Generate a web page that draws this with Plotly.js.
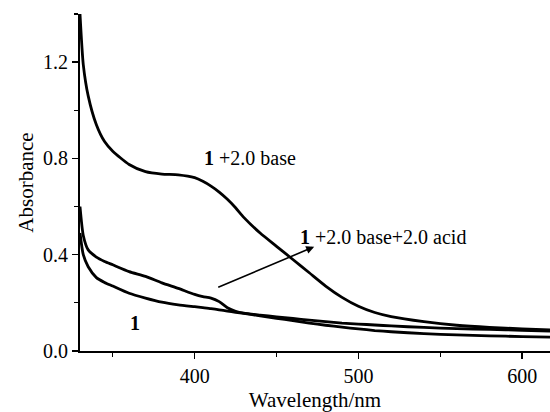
<!DOCTYPE html>
<html>
<head>
<meta charset="utf-8">
<script src="https://cdn.plot.ly/plotly-3.0.1.min.js"></script>
<style>html,body{margin:0;padding:0;background:#fff;}#chart{width:550px;height:412px;}</style>
</head>
<body>
<div id="chart"></div>
<script>
// Wavelength (nm)
const wavelength = [330,332,335,340,345,350,360,370,380,390,400,405,410,415,420,425,430,440,450,460,470,480,490,500,510,520,540,560,580,600,617];
// 1 + 2.0 base
const absBase = [1.40,1.19,1.06,0.94,0.87,0.83,0.775,0.745,0.735,0.732,0.72,0.705,0.685,0.66,0.63,0.595,0.555,0.49,0.435,0.38,0.325,0.27,0.223,0.186,0.16,0.143,0.122,0.107,0.098,0.092,0.088];
// 1 + 2.0 base + 2.0 acid
const absAcid = [0.60,0.48,0.42,0.39,0.372,0.358,0.33,0.31,0.283,0.26,0.235,0.226,0.22,0.205,0.18,0.165,0.157,0.149,0.142,0.135,0.128,0.122,0.116,0.112,0.108,0.104,0.098,0.093,0.09,0.086,0.083];
// 1
const abs1 = [0.49,0.40,0.35,0.305,0.285,0.27,0.24,0.22,0.203,0.192,0.184,0.18,0.176,0.171,0.166,0.161,0.156,0.146,0.136,0.126,0.116,0.107,0.099,0.092,0.085,0.08,0.072,0.067,0.063,0.06,0.058];

const xTicks = [400,500,600];
const yTicks = [0.0,0.4,0.8,1.2];
const yTickText = ['0.0','0.4','0.8','1.2'];

const labels = {base: '<b>1</b> +2.0 base', acid: '<b>1</b> +2.0 base+2.0 acid', one: '<b>1</b>'};

const lineStyle = {color:'#000', width:2.8, shape:'spline', smoothing:0.6};
const traces = [
  {x: wavelength, y: absBase, mode:'lines', line: lineStyle, hoverinfo:'skip'},
  {x: wavelength, y: absAcid, mode:'lines', line: lineStyle, hoverinfo:'skip'},
  {x: wavelength, y: abs1, mode:'lines', line: lineStyle, hoverinfo:'skip'}
];

const fam = 'Liberation Serif, Times New Roman, serif';
const f = (s) => ({family: fam, size: s, color: '#000'});

const layout = {
  width:550, height:412,
  margin:{l:80, r:0, t:14, b:61},
  paper_bgcolor:'#fff', plot_bgcolor:'#fff',
  showlegend:false,
  font: f(20),
  xaxis:{
    range:[330,617], showgrid:false, zeroline:false,
    showline:true, linecolor:'#000', linewidth:2,
    ticks:'outside', ticklen:6, tickwidth:1.5, tickcolor:'#000',
    tickvals:xTicks, ticktext:xTicks.map(String),
    minor:{tickvals:[350,450,550], ticks:'outside', ticklen:4, tickwidth:1.2, tickcolor:'#000'},
    tickfont: f(20),
    title:{text:'Wavelength/nm', font:f(21), standoff:6}
  },
  yaxis:{
    range:[0,1.4], showgrid:false, zeroline:false,
    showline:true, linecolor:'#000', linewidth:2,
    ticks:'outside', ticklen:6, tickwidth:1.5, tickcolor:'#000',
    tickvals:yTicks, ticktext:yTickText,
    minor:{tickvals:[0.2,0.6,1.0,1.4], ticks:'outside', ticklen:4, tickwidth:1.2, tickcolor:'#000'},
    tickfont: f(20),
    title:{text:'Absorbance', font:f(21), standoff:4}
  },
  annotations:[
    {x:434, y:0.80, xref:'x', yref:'y', text:labels.base, showarrow:false, font:f(20)},
    {x:515, y:0.475, xref:'x', yref:'y', text:labels.acid, showarrow:false, font:f(20)},
    {x:363.5, y:0.115, xref:'x', yref:'y', text:labels.one, showarrow:false, font:f(20)},
    {x:473, y:0.433, ax:413.5, ay:0.2625, xref:'x', yref:'y', axref:'x', ayref:'y', text:'', showarrow:true, arrowhead:2, arrowsize:1, arrowwidth:1.6, arrowcolor:'#000'}
  ]
};

Plotly.newPlot('chart', traces, layout, {staticPlot:true, displayModeBar:false});
</script>
</body>
</html>
